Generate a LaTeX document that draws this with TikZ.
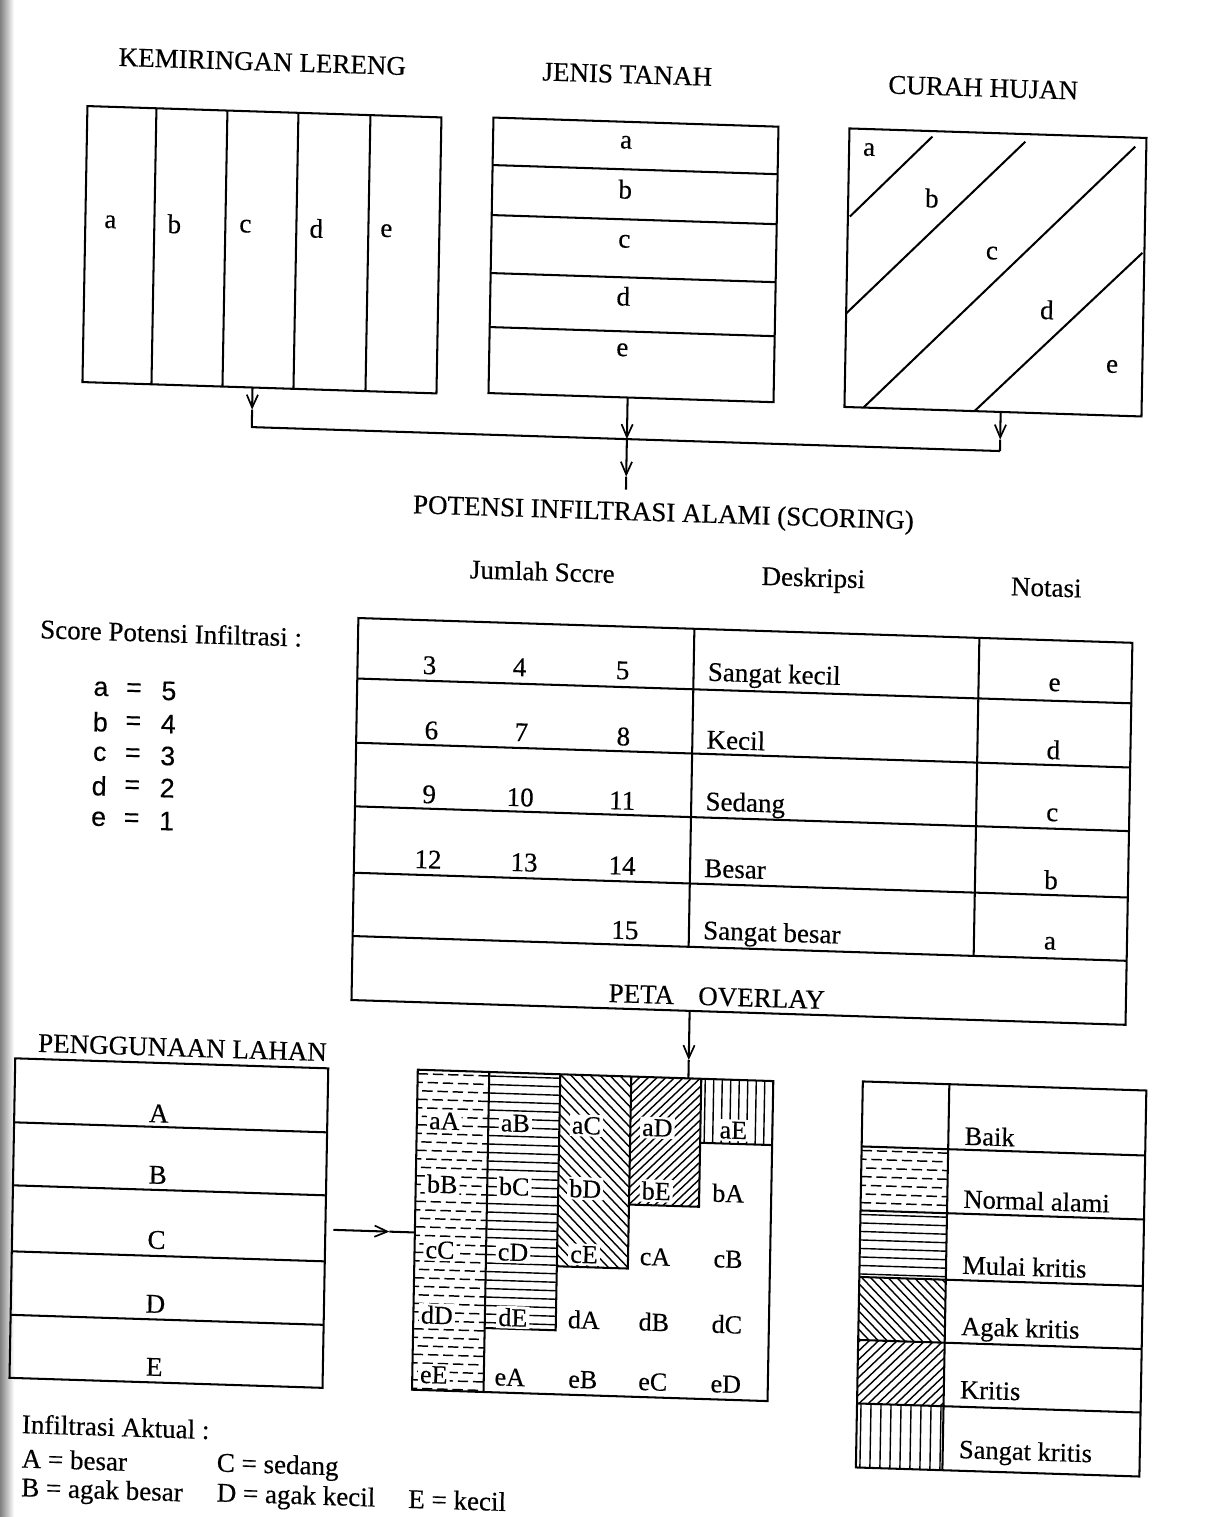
\documentclass[tikz,border=0pt]{standalone}
\usepackage{fontspec}
\setmainfont{Liberation Serif}[FakeBold=0.4]
\newfontfamily\sansfam{Liberation Sans}[FakeBold=0.3]
\usetikzlibrary{arrows.meta}
\def\px{0.025cm}
\tikzset{
  frame/.style={draw, line width=1.45pt, inner sep=0pt, outer sep=0pt, rectangle, anchor=north west},
  ln/.style={line width=1.45pt},
  ht/.style={line width=1pt},
  dht/.style={line width=1.05pt, dash pattern=on 0.26cm off 0.12cm},
  arr/.style={line width=1.45pt, -{Straight Barb[length=0.32cm, width=0.28cm, line width=1.2pt]}},
  txt/.style={inner sep=0pt, font=\fontsize{19.2}{23}\selectfont},
  mlab/.style={inner sep=1.5pt, fill=white, font=\fontsize{18.5}{22}\selectfont},
  leg/.style={inner sep=0pt, anchor=west, font=\fontsize{18.8}{22}\selectfont},
  sl/.style={inner sep=0pt, font=\sansfam\fontsize{19}{22}\selectfont},
}
\newcommand\hatchH[5]{\begin{scope}\clip (#1,#2) rectangle (#3,#4);
  \foreach \k in {0,...,40}{\draw[ht] (#1,{#2+4+\k*#5}) -- (#3,{#2+4+\k*#5});}\end{scope}}
\newcommand\hatchD[5]{\begin{scope}\clip (#1,#2) rectangle (#3,#4);
  \foreach \k in {0,...,40}{\pgfmathsetmacro\ph{mod(\k,3)*0.13}%
  \draw[dht, dash phase=\ph cm] (#1,{#2+4+\k*#5}) -- (#3,{#2+4+\k*#5});}\end{scope}}
\newcommand\hatchB[5]{\begin{scope}\clip (#1,#2) rectangle (#3,#4);
  \foreach \k in {0,...,70}{\draw[ht] ({#1-340+\k*#5},#2) -- ({#1+10+\k*#5},{#2+350});}\end{scope}}
\newcommand\hatchF[5]{\begin{scope}\clip (#1,#2) rectangle (#3,#4);
  \foreach \k in {0,...,70}{\draw[ht] ({#1-340+\k*#5},#4) -- ({#1+10+\k*#5},{#4-350});}\end{scope}}
\newcommand\hatchV[5]{\begin{scope}\clip (#1,#2) rectangle (#3,#4);
  \foreach \k in {0,...,14}{\draw[ht] ({#1+4+\k*#5},#2) -- ({#1+4+\k*#5},#4);}\end{scope}}
\begin{document}
\begin{tikzpicture}[x=0.025cm, y=-0.025cm]
\useasboundingbox (0,0) rectangle (1211,1517);
\fill[white] (0,0) rectangle (1211,1517);
\shade[left color=black!50, right color=white] (0,0) rectangle (14,1517);
\begin{scope}[shift={(605,758)}, cm={1,-0.032,0.018,1,(0,0)}, shift={(-605,-758)}, transform shape]

% ---------- KEMIRINGAN LERENG ----------
\node[txt] (tkl) at (250,73) {KEMIRINGAN LERENG};
\node[frame, minimum width=354*\px, minimum height=276*\px] (kl) at (76,123) {};
\foreach \xx in {145,216,287,359}{\draw[ln] (\xx,123) -- (\xx,399);}
\foreach \l/\xx in {a/101,b/165,c/236,d/307,e/377}{\node[txt] (kl-\l) at (\xx,238) {\l};}

% ---------- JENIS TANAH ----------
\node[txt] (tjt) at (615,74) {JENIS TANAH};
\node[frame, minimum width=285*\px, minimum height=275.5*\px] (jt) at (482,121.5) {};
\foreach \yy in {169,219,277,331}{\draw[ln] (482,\yy) -- (767,\yy);}
\foreach \l/\yy in {a/142,b/189,c/241,d/296,e/349.5}{\node[txt] (jt-\l) at (615,\yy) {\l};}

% ---------- CURAH HUJAN ----------
\node[txt] (tch) at (971,76) {CURAH HUJAN};
\node[frame, minimum width=297*\px, minimum height=278.5*\px] (ch) at (838,121) {};
\draw[ln] (840,209) -- (921,126.5);
\draw[ln] (838,306) -- (1014,128.6);
\draw[ln] (857,399.5) -- (1124,130);
\draw[ln] (968,399.5) -- (1133,236);
\foreach \l/\xx/\yy in {a/858/141.5,b/921.6/188,c/982.6/241,d/1038.6/296,e/1104.7/350.5}{\node[txt] (ch-\l) at (\xx,\yy) {\l};}

% ---------- connectors to POTENSI ----------
\coordinate (klO) at (246,399); \coordinate (klT) at (246,421); \coordinate (busL) at (246,438.5);
\coordinate (jtO) at (621,397); \coordinate (busM) at (621,438.5); \coordinate (jtT) at (621,476); \coordinate (jtE) at (621,489);
\coordinate (chO) at (994,399.5); \coordinate (chT) at (994,427); \coordinate (busR) at (994,438.5);
\draw[arr] (klO) -- (klT);
\draw[ln] (klT) -- (busL) -- (busR);
\draw[arr] (chO) -- (chT);
\draw[ln] (chT) -- (busR);
\draw[arr] (jtO) -- (busM);
\draw[arr] (busM) -- (jtT);
\draw[ln] (jtT) -- (jtE);

\node[txt] (pot) at (659,513) {POTENSI INFILTRASI ALAMI (SCORING)};

% ---------- score table ----------
\node[txt] (h1) at (539,573.5) {Jumlah Sccre};
\node[txt] (h2) at (810,573.5) {Deskripsi};
\node[txt] (h3) at (1043,573.5) {Notasi};
\node[frame, minimum width=774*\px, minimum height=382*\px] (tbl) at (356,626) {};
\foreach \yy in {686.5,750.7,814.3,880.7,944}{\draw[ln] (356,\yy) -- (1130,\yy);}
\draw[ln] (692,626) -- (692,944);
\draw[ln] (977,626) -- (977,944);
\foreach \n/\xx/\yy in {3/428/671,4/518/670,5/621/670,6/431/736,7/521/735,8/623/736,9/430/800,10/521/800,11/623/800,12/430/865,13/526/865,14/624/865,15/628/929.5}{\node[txt] (n\n) at (\xx,\yy) {\n};}
\node[txt, anchor=west] (d1) at (706,671) {Sangat kecil};
\node[txt, anchor=west] (d2) at (706,736) {Kecil};
\node[txt, anchor=west] (d3) at (706,800.5) {Sedang};
\node[txt, anchor=west] (d4) at (706,865) {Besar};
\node[txt, anchor=west] (d5) at (706,929.5) {Sangat besar};
\foreach \l/\yy in {e/670.5,d/735.5,c/800.5,b/865.5,a/929}{\node[txt] (nt-\l) at (1053,\yy) {\l};}
\node[txt] (peta) at (721,993) {PETA\hspace{0.9em}OVERLAY};

% ---------- score list ----------
\node[txt, anchor=west] (sc) at (38,647) {Score Potensi Infiltrasi :};
\foreach \l/\v/\yy in {a/5/705,b/4/738,c/3/770,d/2/802,e/1/835}{
  \node[sl] (sl-\l) at (100,\yy) {\l};
  \node[sl] (se-\l) at (133,\yy) {=};
  \node[sl] (sv-\l) at (168,\yy) {\v};}

% ---------- arrow to overlay ----------
\coordinate (tbO) at (694,1008); \coordinate (tbT) at (694,1057); \coordinate (mapI) at (694,1075.5);
\draw[arr] (tbO) -- (tbT);
\draw[ln] (tbT) -- (mapI);

% ---------- PENGGUNAAN LAHAN ----------
\node[txt] (tpl) at (188,1061) {PENGGUNAAN LAHAN};
\node[frame, minimum width=313*\px, minimum height=319.5*\px] (pl) at (21,1077) {};
\foreach \yy in {1141,1204,1270,1333.5}{\draw[ln] (21,\yy) -- (334,\yy);}
\foreach \l/\yy in {A/1127.5,B/1189,C/1254,D/1318,E/1381}{\node[txt] (pl-\l) at (165.5,\yy) {\l};}
\coordinate (plO) at (342,1238); \coordinate (plT) at (398,1238); \coordinate (mapL) at (423.5,1238);
\draw[arr] (plO) -- (plT);
\draw[ln] (plT) -- (mapL);

% ---------- overlay map ----------
\hatchD{423.5}{1075.5}{495}{1395.5}{8.5}
\hatchH{495}{1075.5}{566}{1331.5}{8.5}
\hatchB{566}{1075.5}{637}{1267.5}{10}
\hatchF{637}{1075.5}{707}{1203.5}{8.5}
\hatchV{707}{1075.5}{779}{1139.5}{8.5}
\node[frame, minimum width=355.5*\px, minimum height=320*\px] (map) at (423.5,1075.5) {};
\draw[ln] (495,1075.5) -- (495,1395.5);
\draw[ln] (566,1075.5) -- (566,1331.5) -- (495,1331.5);
\draw[ln] (637,1075.5) -- (637,1267.5) -- (566,1267.5);
\draw[ln] (707,1075.5) -- (707,1203.5) -- (637,1203.5);
\draw[ln] (779,1139.5) -- (707,1139.5);
\foreach \lab/\xx/\yy in {aA/451/1126,aB/522/1126,aC/593/1126,aD/664/1126,aE/740/1126,
  bB/450/1189,bC/522/1189,bD/593/1189,bE/664/1189,bA/736/1189,
  cC/449/1255,cD/522/1255,cE/593/1255,cA/664/1255,cB/737/1255,
  dD/447/1320,dE/523/1320,dA/594/1320,dB/664/1320,dC/737/1320,
  eE/445/1380,eA/521/1380,eB/594/1380,eC/664/1380,eD/737/1380}{
  \node[mlab] (m-\lab) at (\xx,\yy) {\lab};}

% ---------- legend ----------
\hatchD{868.5}{1138}{955}{1202}{8.7}
\hatchH{868.5}{1202}{955}{1268.5}{8.5}
\hatchB{868.5}{1268.5}{955}{1331.5}{9}
\hatchF{868.5}{1331.5}{955}{1395}{9}
\hatchV{868.5}{1395}{955}{1459}{10}
\node[frame, minimum width=283.5*\px, minimum height=386*\px] (lg) at (868.5,1073) {};
\draw[ln] (955,1073) -- (955,1459);
\foreach \yy in {1138,1202,1268.5,1331.5,1395}{\draw[ln] (868.5,\yy) -- (1152,\yy);}
\node[leg] (g1) at (971,1124) {Baik};
\node[leg] (g2) at (971,1187) {Normal alami};
\node[leg] (g3) at (971,1253) {Mulai kritis};
\node[leg] (g4) at (971,1317) {Agak kritis};
\node[leg] (g5) at (971,1378) {Kritis};
\node[leg] (g6) at (971,1440) {Sangat kritis};

% ---------- Infiltrasi Aktual ----------
\node[txt, anchor=west] (ia) at (34,1442) {Infiltrasi Aktual :};
\node[txt, anchor=west] (iaA) at (34.5,1476.5) {A = besar};
\node[txt, anchor=west] (iaB) at (34.5,1508) {B = agak besar};
\node[txt, anchor=west] (iaC) at (229.5,1477) {C = sedang};
\node[txt, anchor=west] (iaD) at (230,1507) {D = agak kecil};
\node[txt, anchor=west] (iaE) at (421.5,1504.5) {E = kecil};
\end{scope}
\end{tikzpicture}
\end{document}
